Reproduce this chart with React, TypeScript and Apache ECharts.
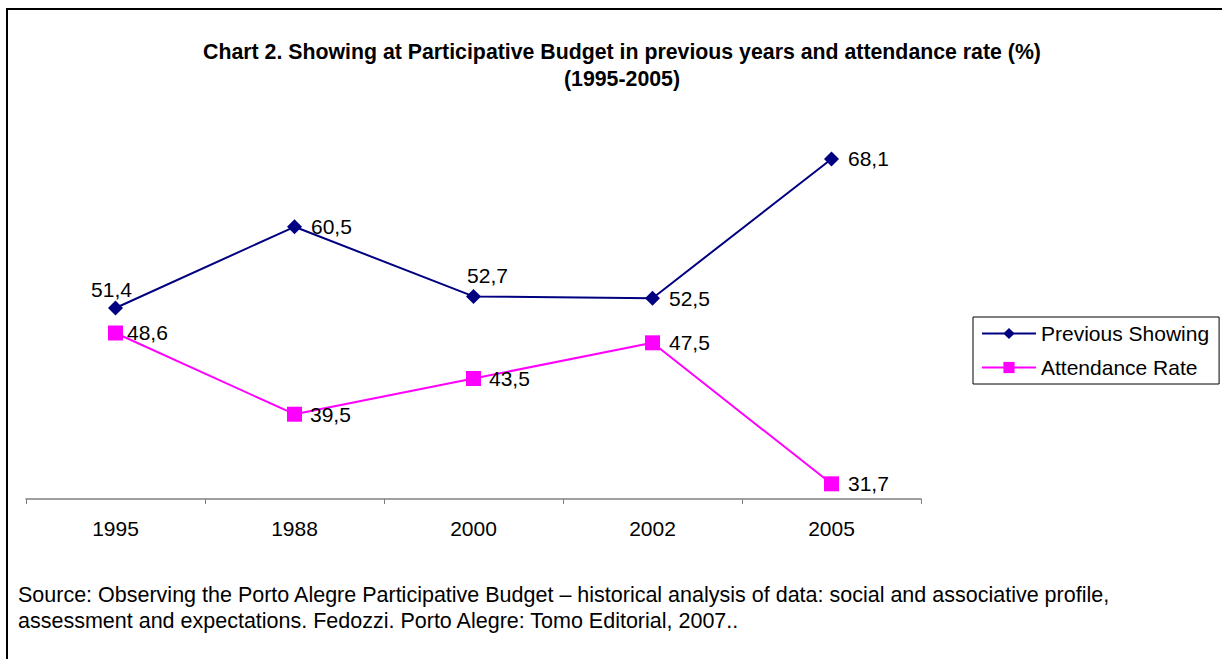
import React, { useEffect, useRef } from "react";
import * as echarts from "echarts";

const categories = ["1995", "1988", "2000", "2002", "2005"];
const previousShowing = [51.4, 60.5, 52.7, 52.5, 68.1];
const attendanceRate = [48.6, 39.5, 43.5, 47.5, 31.7];
const previousLabelPos = ["top", "right", "top", "right", "right"];
const previousLabelOffset = [[-4, 0], [0, 0], [14, 0], [0, 0], [0, 0]];
const previousLabelDist = [1, 9, 3, 9, 9];
const attendanceLabelPos = ["right", "right", "right", "right", "right"];
const attendanceLabelDist = [4, 8, 8, 9, 9];

const FONT = "'Liberation Sans', Arial, sans-serif";
const fmt = (p: any) => String(p.value).replace(".", ",");

export default function App() {
  const ref = useRef<HTMLDivElement>(null);
  useEffect(() => {
    if (!ref.current) return;
    const chart = echarts.init(ref.current, null, { renderer: "svg" });
    chart.setOption({
      animation: false,
      backgroundColor: "#ffffff",
      textStyle: { fontFamily: FONT },
      title: {
        text: "Chart 2. Showing at Participative Budget in previous years and attendance rate (%)\n(1995-2005)",
        left: 617,
        textAlign: "center",
        top: 33,
        textStyle: { fontFamily: FONT, fontSize: 21.3, fontWeight: "bold", color: "#000", lineHeight: 27 },
      },
      legend: {
        left: 973,
        top: 317,
        orient: "vertical",
        itemWidth: 54,
        itemHeight: 14,
        itemGap: 13,
        padding: [6, 10, 6, 8],
        borderColor: "#000",
        borderWidth: 1,
        textStyle: { fontFamily: FONT, fontSize: 21, color: "#000" },
        data: ["Previous Showing", "Attendance Rate"],
      },
      grid: { left: 26, right: 301, top: 142, bottom: 160, containLabel: false },
      xAxis: {
        type: "category",
        data: categories,
        boundaryGap: true,
        axisLine: { lineStyle: { color: "#808080", width: 1.5 } },
        axisTick: { show: true, length: 5, inside: false, lineStyle: { color: "#808080" } },
        axisLabel: { fontFamily: FONT, fontSize: 21, color: "#000", margin: 19 },
        splitLine: { show: false },
      },
      yAxis: { type: "value", min: 30, max: 70, show: false, splitLine: { show: false } },
      series: [
        {
          name: "Previous Showing",
          type: "line",
          data: previousShowing.map((v, i) => ({
            value: v,
            label: {
              position: previousLabelPos[i],
              offset: previousLabelOffset[i],
              distance: previousLabelDist[i],
            },
          })),
          color: "#000080",
          lineStyle: { color: "#000080", width: 2 },
          symbol: "diamond",
          symbolSize: 15,
          itemStyle: { color: "#000080" },
          label: { show: true, formatter: fmt, fontFamily: FONT, fontSize: 21, color: "#000", distance: 9 },
        },
        {
          name: "Attendance Rate",
          type: "line",
          data: attendanceRate.map((v, i) => ({
            value: v,
            label: { position: attendanceLabelPos[i], distance: attendanceLabelDist[i] },
          })),
          color: "#FF00FF",
          lineStyle: { color: "#FF00FF", width: 2 },
          symbol: "rect",
          symbolSize: 15,
          itemStyle: { color: "#FF00FF" },
          label: { show: true, formatter: fmt, fontFamily: FONT, fontSize: 21, color: "#000", distance: 8 },
        },
      ],
      graphic: [
        {
          type: "rect",
          shape: { x: 7, y: 9, width: 1300, height: 700 },
          style: { fill: "none", stroke: "#000", lineWidth: 2 },
          silent: true,
        },
        {
          type: "text",
          left: 18,
          top: 582,
          style: {
            text: "Source: Observing the Porto Alegre Participative Budget – historical analysis of data: social and associative profile,\nassessment and expectations. Fedozzi. Porto Alegre: Tomo Editorial, 2007..",
            font: `21.5px ${FONT}`,
            fill: "#000",
            lineHeight: 26,
          },
        },
      ],
    });
    return () => chart.dispose();
  }, []);
  return <div ref={ref} style={{ position: "fixed", left: 0, top: 0, width: 1222, height: 659 }} />;
}
